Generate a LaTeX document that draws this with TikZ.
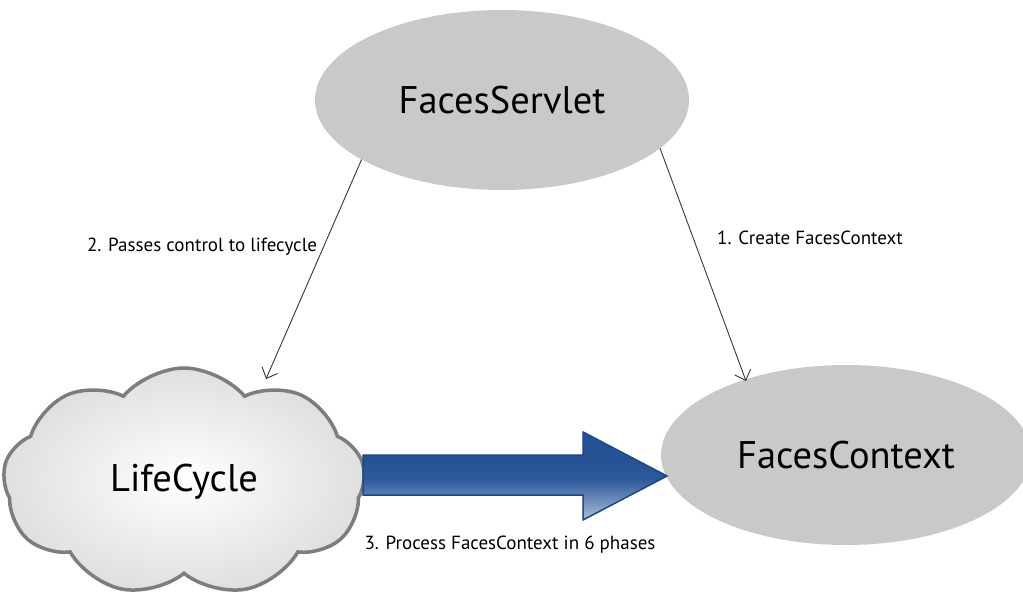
\documentclass[tikz,border=0pt]{standalone}
\usepackage{fontspec}
\setmainfont{PT Sans}
\usepackage{xcolor}
\usepackage{tikz}
\usetikzlibrary{arrows.meta,shapes,shadows,calc}

\definecolor{ovalgray}{RGB}{201,201,201}
\definecolor{cloudedge}{RGB}{125,125,125}
\definecolor{arrowdark}{RGB}{36,82,148}
\definecolor{arrowmid}{RGB}{44,90,156}
\definecolor{arrowlight}{RGB}{190,202,222}
\definecolor{arrowedge}{RGB}{28,70,135}
\definecolor{linegray}{RGB}{55,55,55}

\pgfdeclareverticalshading{blockfade}{100bp}{
  color(0bp)=(arrowlight); color(22bp)=(arrowlight); color(48bp)=(arrowmid);
  color(60bp)=(arrowdark); color(100bp)=(arrowdark)}

\tikzset{
  oval/.style={ellipse, fill=ovalgray, minimum width=374, minimum height=180, font=\fontsize{38.5}{44}\selectfont},
  puff/.style={cloud, cloud puffs=9, cloud puff arc=100, aspect=1.6, draw=cloudedge, line width=3.5,
    inner color=white, outer color=gray!25, minimum width=362, minimum height=228, font=\fontsize{38.5}{44}\selectfont},
  conn/.style={-{Straight Barb[length=9,width=17]}, draw=linegray, line width=0.9},
  steplabel/.style={font=\fontsize{19}{22}\selectfont}
}

\begin{document}
\begin{tikzpicture}[x=1pt,y=-1pt]
\useasboundingbox (0,0) rectangle (1023,599);
% Servlet, context and lifecycle
\node[oval] (servlet) at (502,100) {FacesServlet};
\node[oval, minimum width=370] (context) at (846,455) {FacesContext};
\node[puff] (lifecycle) at (184,482) {LifeCycle};

% Free ends of the thin arrows
\coordinate (lcin) at (266,379);
\coordinate (ctxin) at (746,381);
\draw[conn] (servlet.-17) -- (ctxin);
\draw[conn] (servlet.203) -- (lcin);
\node[steplabel] (create) at (810,238) {1. Create FacesContext};
\node[steplabel] (passes) at (202,247) {2. Passes control to lifecycle};

% Big arrow
\shade[shading=blockfade, draw=arrowedge, line width=1.5]
  (363,455) -- (583,455) -- (583,432) -- (667,476) -- (583,520) -- (583,495) -- (363,495) -- cycle;
\node[steplabel] (process) at (510,545) {3. Process FacesContext in 6 phases};
\end{tikzpicture}
\end{document}
